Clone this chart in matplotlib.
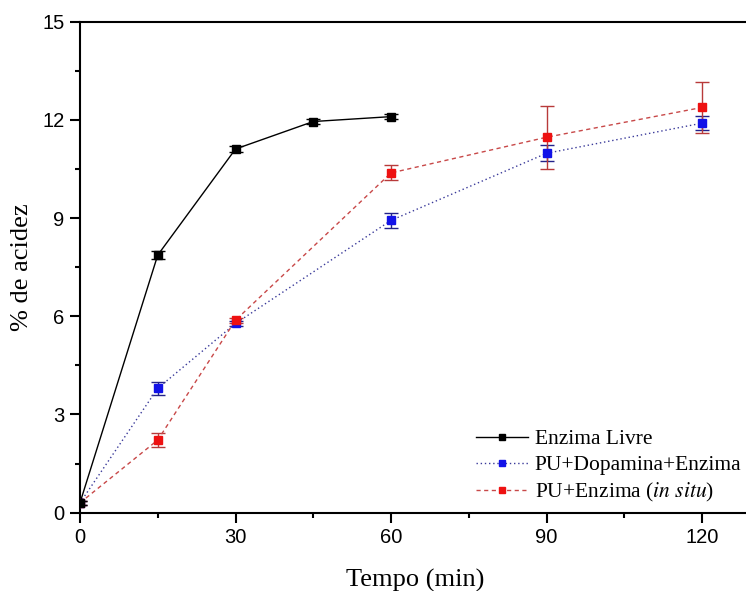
import matplotlib
matplotlib.use("Agg")
import matplotlib.pyplot as plt
from matplotlib.ticker import MultipleLocator
from matplotlib.lines import Line2D

plt.rcParams['mathtext.fontset'] = 'stix'

# Data
t_livre = [0, 15, 30, 45, 60]
y_livre = [0.30, 7.87, 11.11, 11.95, 12.10]
e_livre = [0.05, 0.13, 0.08, 0.08, 0.08]

t_pu = [0, 15, 30, 60, 90, 120]
y_dopa = [0.30, 3.80, 5.78, 8.93, 10.98, 11.90]
e_dopa = [0.05, 0.20, 0.08, 0.24, 0.24, 0.22]

y_situ = [0.30, 2.22, 5.88, 10.38, 11.47, 12.38]
e_situ = [0.05, 0.21, 0.08, 0.23, 0.96, 0.77]

labels = ['Enzima Livre', 'PU+Dopamina+Enzima', 'PU+Enzima ($\\it{in\\ situ}$)']

styles = [
    dict(color='black', ls='-', mfc='black', ecolor='black', ms=5.5),
    dict(color='#3a3a9a', ls=(0, (1, 2)), mfc='#1212e8', ecolor='#22228a', ms=6),
    dict(color='#c84848', ls=(0, (3, 2.5)), mfc='#ee1111', ecolor='#b83a3a', ms=6),
]

fig = plt.figure(figsize=(7.46, 5.91), dpi=100)
ax = fig.add_axes([0.1072, 0.1325, 0.9, 0.8308])

series = [(t_livre, y_livre, e_livre), (t_pu, y_dopa, e_dopa), (t_pu, y_situ, e_situ)]
handles = []
for (t, y, e), st, lab, z in zip(series, styles, labels, [5, 4, 4]):
    ax.errorbar(t, y, yerr=e, color=st['color'], lw=1.0, ls=st['ls'],
                marker='s', ms=st['ms'], mfc=st['mfc'], mec=st['mfc'],
                ecolor=st['ecolor'], elinewidth=1.0, capsize=5, capthick=1.0,
                zorder=z)
    handles.append(Line2D([], [], color=st['color'], lw=1.0, ls=st['ls'],
                          marker='s', ms=5, mfc=st['mfc'], mec=st['mfc'],
                          label=lab))

ax.set_xlim(0, 129.5)
ax.set_ylim(0, 15)
ax.xaxis.set_major_locator(MultipleLocator(30))
ax.xaxis.set_minor_locator(MultipleLocator(15))
ax.yaxis.set_major_locator(MultipleLocator(3))
ax.yaxis.set_minor_locator(MultipleLocator(1.5))

for s in ['left', 'bottom', 'top', 'right']:
    ax.spines[s].set_linewidth(1.5)
ax.tick_params(which='major', direction='out', length=7, width=1.5,
               labelsize=14.5, pad=4, top=False, right=False)
ax.tick_params(which='minor', direction='out', length=3.5, width=1.5,
               top=False, right=False)
for lab in ax.get_xticklabels() + ax.get_yticklabels():
    lab.set_fontfamily('Liberation Sans')

ax.set_xlabel('Tempo (min)', fontfamily='Liberation Serif', fontsize=19, labelpad=16)
ax.set_ylabel('% de acidez', fontfamily='Liberation Serif', fontsize=19, labelpad=7)

leg = ax.legend(handles=handles, loc='lower left', bbox_to_anchor=(0.577, 0.0),
                frameon=False,
                prop={'family': 'Liberation Serif', 'size': 15.5},
                handlelength=2.4, handletextpad=0.33, labelspacing=0.27,
                borderaxespad=0)

fig.savefig('out.png', dpi=100)
